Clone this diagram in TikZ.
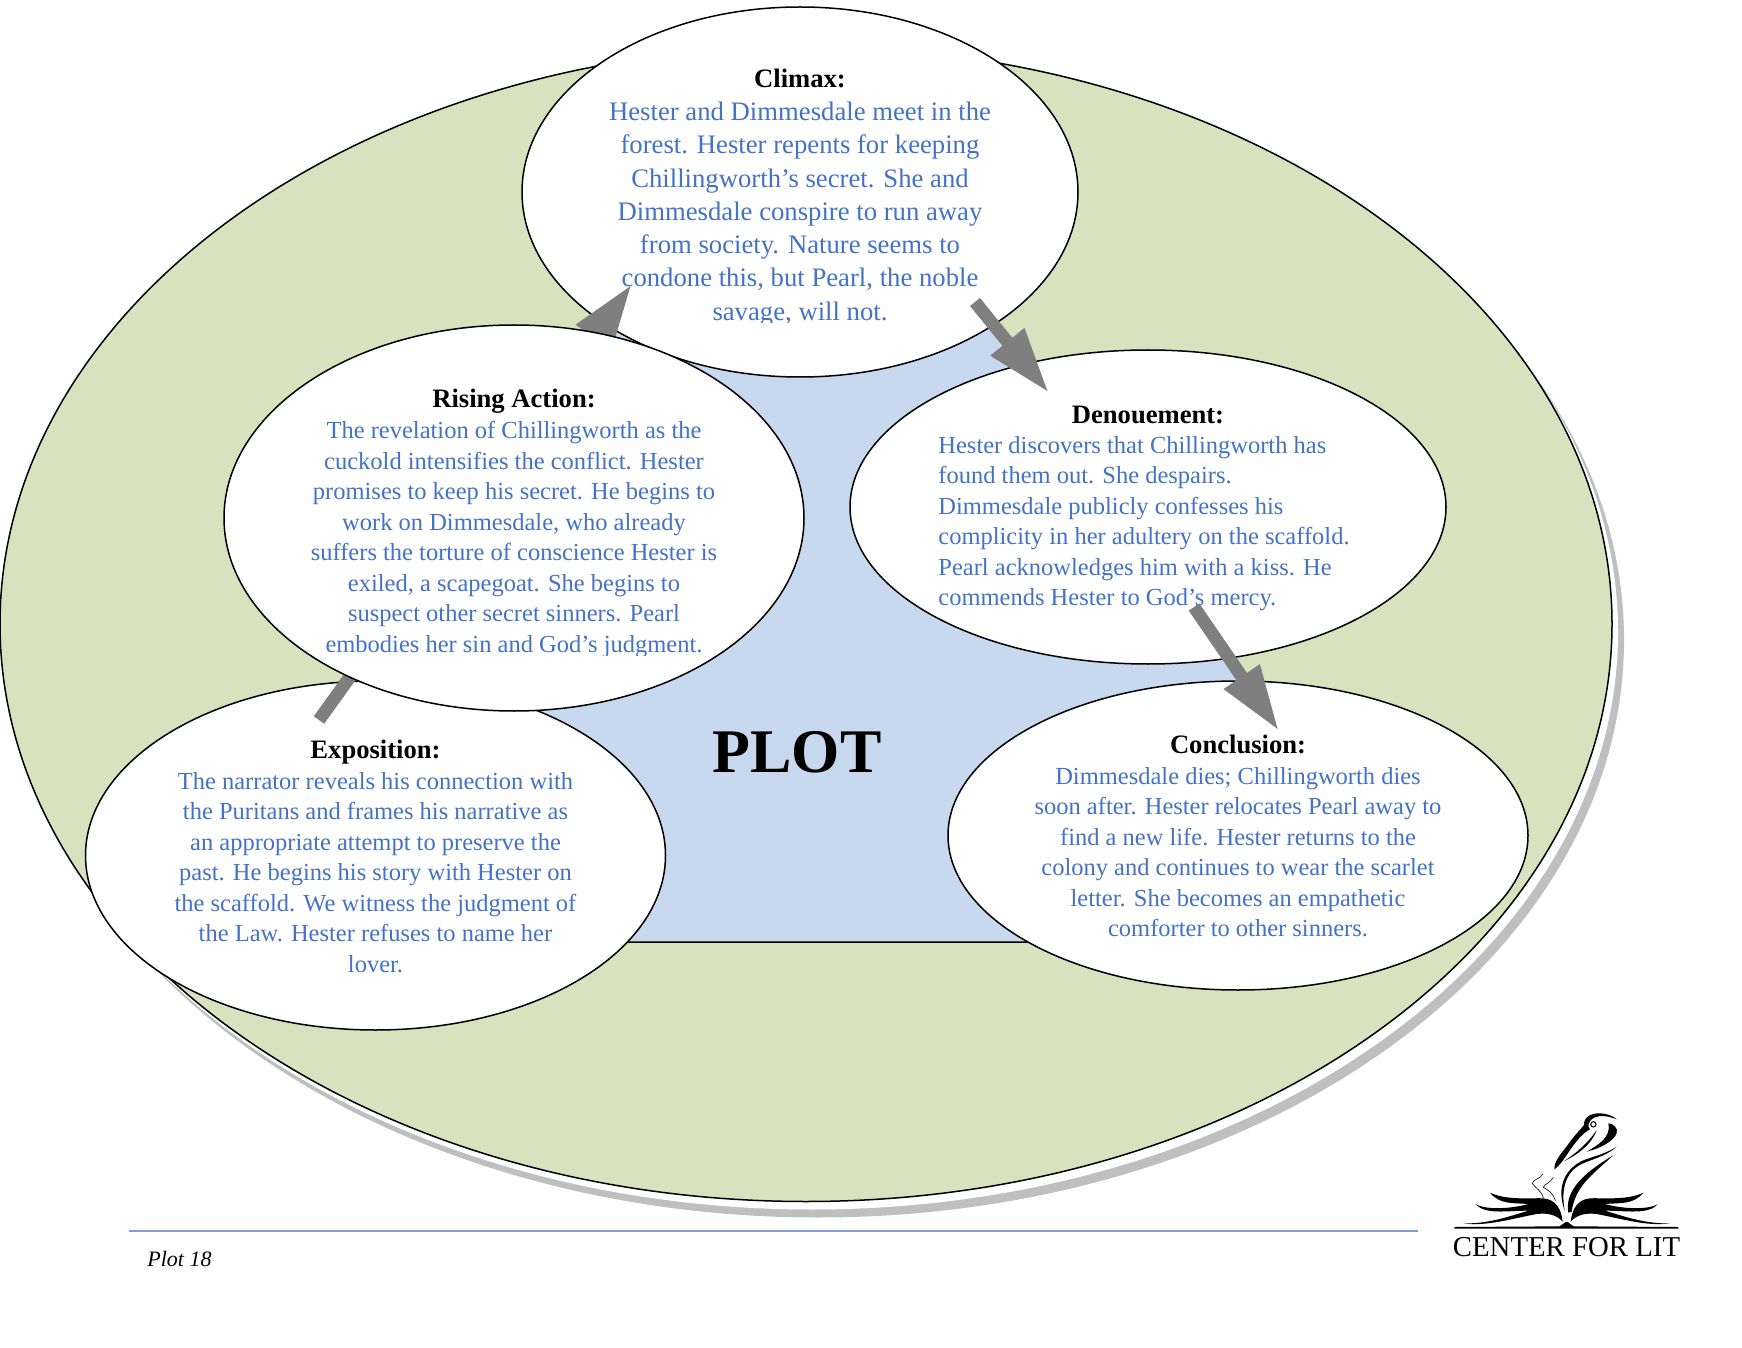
\documentclass[tikz,border=0pt]{standalone}
\usepackage{fontspec}
\setmainfont{Liberation Serif}
\usetikzlibrary{arrows.meta,shapes.geometric}
\definecolor{plotblue}{HTML}{4472C4}
\definecolor{plotgreen}{HTML}{D8E2BF}
\definecolor{plotfill}{HTML}{C7D8EF}
\definecolor{plotgrey}{HTML}{7F7F7F}
\definecolor{plotshadow}{HTML}{BFBFBF}
\definecolor{plotrule}{HTML}{7F9FD8}
\tikzset{
 oval/.style={ellipse,draw=black,fill=white,inner sep=0pt,outer sep=0pt,line width=0.75pt},
 bodytext/.style={font=\fontsize{13.35}{16.65}\selectfont,text=plotblue,align=center,inner sep=0pt,anchor=north},
 bodytight/.style={bodytext,font=\fontsize{12.25}{15.25}\selectfont},
 headtext/.style={font=\fontsize{13.3}{16}\bfseries\selectfont,text=black,inner sep=0pt},
 plotarrow/.style={draw=plotgrey,line width=6.4pt,-{Triangle[length=33pt,width=20pt,color=plotgrey]}},
}
\begin{document}
\begin{tikzpicture}[x=0.5pt,y=-0.5pt]
\useasboundingbox (0,0) rectangle (1742,1348);
% big ellipse with offset shadow
\node[oval,draw=none,fill=plotshadow,minimum width=806pt,minimum height=577.5pt] at (818,640) {};
\node[oval,draw=none,fill=white,minimum width=806pt,minimum height=577.5pt] at (812,632) {};
\node[oval,fill=plotgreen,minimum width=806pt,minimum height=577.5pt] (outer) at (806,624) {};
% triangle
\draw[fill=plotfill,line width=0.75pt] (806,60) -- (1432,942) -- (180,942) -- cycle;
% ellipses behind arrows
\node[oval,minimum width=290pt,minimum height=174.5pt] (expo) at (375.5,855.5) {};
\node[oval,minimum width=278pt,minimum height=185pt] (climax) at (800,192) {};
\node[oval,minimum width=298pt,minimum height=157pt] (denou) at (1148,507) {};
\node[oval,minimum width=290pt,minimum height=154.5pt] (concl) at (1238,835.5) {};
% texts
\node[headtext] (climaxhead) at (800,78) {Climax:};
\begin{scope}
\clip (500,0) rectangle (1100,323);
\node[bodytext] (climaxbody) at (800,101.5) {Hester and Dimmesdale meet in the\\forest. Hester repents for keeping\\Chillingworth’s secret. She and\\Dimmesdale conspire to run away\\from society. Nature seems to\\condone this, but Pearl, the noble\\savage, will not.};
\end{scope}
\node[headtext] (denouhead) at (1148,414.5) {Denouement:};
\node[bodytight,align=left,anchor=north west] (denoubody) at (938,436) {Hester discovers that Chillingworth has\\found them out. She despairs.\\Dimmesdale publicly confesses his\\complicity in her adultery on the scaffold.\\Pearl acknowledges him with a kiss. He\\commends Hester to God’s mercy.};
\node[headtext] (conclhead) at (1238,744) {Conclusion:};
\node[bodytight] (conclbody) at (1238,767) {Dimmesdale dies; Chillingworth dies\\soon after. Hester relocates Pearl away to\\find a new life. Hester returns to the\\colony and continues to wear the scarlet\\letter. She becomes an empathetic\\comforter to other sinners.};
\node[headtext] (expohead) at (375.5,752) {Exposition:};
\node[bodytight] (expobody) at (375.5,772) {The narrator reveals his connection with\\the Puritans and frames his narrative as\\an appropriate attempt to preserve the\\past. He begins his story with Hester on\\the scaffold. We witness the judgment of\\the Law. Hester refuses to name her\\lover.};
% arrows
\coordinate (a1s) at (319,720); \coordinate (a1e) at (632,284);
\coordinate (a2s) at (975,302); \coordinate (a2e) at (1049,393);
\coordinate (a3s) at (1194,607); \coordinate (a3e) at (1279,731);
\draw[plotarrow] (a1s) -- (a1e);
\draw[plotarrow] (a2s) -- (a2e);
\draw[plotarrow] (a3s) -- (a3e);
% rising on top
\node[oval,minimum width=290pt,minimum height=193pt] (rising) at (514,518) {};
\node[headtext] (risinghead) at (514,401) {Rising Action:};
\begin{scope}
\clip (230,300) rectangle (800,655);
\node[bodytight] (risingbody) at (514,421) {The revelation of Chillingworth as the\\cuckold intensifies the conflict. Hester\\promises to keep his secret. He begins to\\work on Dimmesdale, who already\\suffers the torture of conscience Hester is\\exiled, a scapegoat. She begins to\\suspect other secret sinners. Pearl\\embodies her sin and God’s judgment.};
\end{scope}
\node[font=\fontsize{31}{36}\bfseries\selectfont,inner sep=0pt] (plot) at (797,752) {PLOT};
% footer
\coordinate (rulel) at (129,1231); \coordinate (ruler) at (1418,1231);
\draw[plotrule,line width=0.6pt] (rulel) -- (ruler);
\node[font=\fontsize{11}{13}\itshape\selectfont,inner sep=0pt,anchor=west] (page) at (147,1259) {Plot 18};
% logo
\node[font=\fontsize{14.4}{16}\selectfont,inner sep=0pt] (logotext) at (1566.5,1247) {CENTER FOR LIT};
\begin{scope}[shift={(1400,1080)},x=0.16667pt,y=-0.16667pt]
 \fill (163,441) -- (478,439) .. controls (488,437) and (492,426) .. (500,425) .. controls (508,426) and (512,437) .. (522,439) -- (835,441) -- (835,446) -- (163,446) -- cycle;
 \foreach \sx/\ox in {1/0,-1/1000}{
 \begin{scope}[shift={(\ox,0)},xscale=\sx]
  \fill (488,425) .. controls (484,385) and (465,358) .. (430,355) .. controls (395,353) and (320,362) .. (270,338)
   .. controls (300,375) and (340,368) .. (385,372) .. controls (340,385) and (260,392) .. (226,372)
   .. controls (255,405) and (320,392) .. (385,392) .. controls (320,412) and (260,432) .. (190,430)
   .. controls (260,440) and (340,415) .. (410,402) .. controls (445,398) and (470,405) .. (488,425) -- cycle;
 \end{scope}}
 % neck
 \fill (505,398) .. controls (495,345) and (530,290) .. (640,226) .. controls (575,285) and (525,320) .. (515,395) -- cycle;
 \fill (494,392) .. controls (468,320) and (495,265) .. (552,240) .. controls (585,228) and (615,222) .. (650,200)
   .. controls (620,228) and (575,238) .. (545,252) .. controls (498,275) and (482,325) .. (494,392) -- cycle;
 % head and bill
 \fill (463,268) .. controls (462,240) and (490,215) .. (510,185) .. controls (525,165) and (540,150) .. (552,135)
   .. controls (550,112) and (575,98) .. (600,100) .. controls (620,100) and (640,108) .. (650,118)
   .. controls (625,108) and (600,105) .. (585,112) .. controls (565,120) and (560,140) .. (570,148)
   .. controls (545,160) and (520,195) .. (500,225) .. controls (490,240) and (478,258) .. (463,268) -- cycle;
 \fill (625,130) .. controls (640,130) and (655,145) .. (650,160) .. controls (640,185) and (600,205) .. (560,215)
   .. controls (595,195) and (635,170) .. (625,130) -- cycle;
 \fill (490,245) .. controls (520,225) and (560,195) .. (590,150) .. controls (575,195) and (530,225) .. (490,245) -- cycle;
 \fill[white] (580,133) circle (6);
 \draw[line width=0.5pt] (580,133) circle (8);
 % chicks
 \draw[line width=0.3pt] (428,282) .. controls (420,300) and (400,295) .. (397,310) .. controls (405,325) and (425,330) .. (430,355);
 \draw[line width=0.3pt] (460,292) .. controls (450,310) and (435,310) .. (430,322) .. controls (445,330) and (460,340) .. (466,362);
\end{scope}
\end{tikzpicture}
\end{document}
